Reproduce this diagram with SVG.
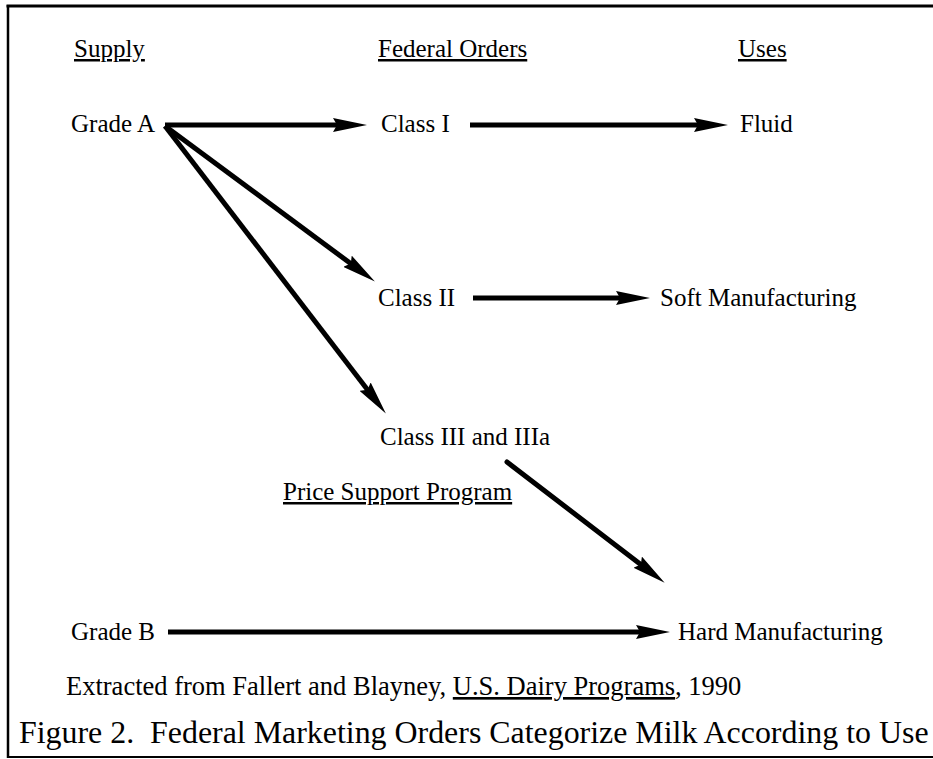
<svg xmlns="http://www.w3.org/2000/svg" width="933" height="759" viewBox="0 0 933 759">
<style>
text{font-family:"Liberation Serif","Times New Roman",serif;fill:#000;font-size:25px}
.u{text-decoration:underline}
.src{font-size:26.5px}
.cap{font-size:31.9px;white-space:pre}
.ln{stroke:#000;stroke-width:5;fill:none;marker-end:url(#ah)}
.frame{stroke:#000;fill:none}
</style>
<defs>
<marker id="ah" viewBox="0 0 34 14" refX="8" refY="7" markerWidth="34" markerHeight="14" markerUnits="userSpaceOnUse" orient="auto">
<path d="M0,0 L34,7 L0,14 L4,7 Z" fill="#000"/>
</marker>
</defs>
<rect width="933" height="759" fill="#fff"/>
<g id="frame">
<line class="frame" x1="6.5" y1="6" x2="933" y2="6" stroke-width="3"/>
<line class="frame" x1="8" y1="5" x2="8" y2="758" stroke-width="2.5"/>
<line class="frame" x1="7" y1="757" x2="933" y2="757" stroke-width="2"/>
</g>
<g id="headings">
<text id="h-supply" class="u" x="74" y="57">Supply</text>
<text id="h-orders" class="u" x="378" y="57">Federal Orders</text>
<text id="h-uses" class="u" x="738" y="57">Uses</text>
</g>
<g id="grade-a"><text x="71" y="132">Grade A</text></g>
<g id="class-i"><text x="381" y="132">Class I</text></g>
<g id="fluid"><text x="740" y="132">Fluid</text></g>
<g id="class-ii"><text x="378" y="306">Class II</text></g>
<g id="soft"><text x="660" y="306">Soft Manufacturing</text></g>
<g id="class-iii"><text x="380" y="445">Class III and IIIa</text></g>
<g id="price-support"><text class="u" x="283" y="500">Price Support Program</text></g>
<g id="grade-b"><text x="71" y="640">Grade B</text></g>
<g id="hard"><text x="678" y="640">Hard Manufacturing</text></g>
<g id="source"><text class="src" x="66" y="695">Extracted from Fallert and Blayney, <tspan class="u">U.S. Dairy Programs</tspan>, 1990</text></g>
<g id="caption"><text class="cap" x="19" y="743">Figure 2.  Federal Marketing Orders Categorize Milk According to Use</text></g>
<g id="connectors">
<line class="ln" x1="165" y1="125" x2="341" y2="125"/>
<line class="ln" x1="470" y1="125" x2="702" y2="125"/>
<line class="ln" x1="165" y1="126" x2="354" y2="266" stroke-width="6"/>
<line class="ln" x1="165" y1="126" x2="370" y2="393" stroke-width="6"/>
<line class="ln" x1="473" y1="298" x2="624" y2="298"/>
<line class="ln" x1="507" y1="462" x2="644" y2="567" stroke-width="6" stroke-linecap="round"/>
<line class="ln" x1="168" y1="632" x2="644" y2="632" stroke-width="4"/>
</g>
</svg>
